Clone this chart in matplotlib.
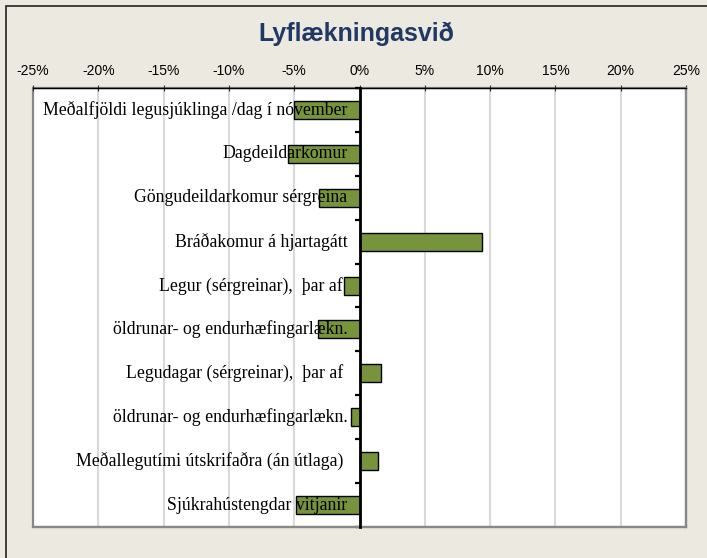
import matplotlib
matplotlib.use("Agg")
import matplotlib.pyplot as plt
from matplotlib.patches import Rectangle
from matplotlib.ticker import FixedLocator, FuncFormatter
from matplotlib.transforms import offset_copy

title = "Lyflækningasvið"
categories = [
    "Meðalfjöldi legusjúklinga /dag í nóvember",
    "Dagdeildarkomur",
    "Göngudeildarkomur sérgreina",
    "Bráðakomur á hjartagátt",
    "Legur (sérgreinar),  þar af ",
    "öldrunar- og endurhæfingarlækn.",
    "Legudagar (sérgreinar),  þar af ",
    "öldrunar- og endurhæfingarlækn.",
    "Meðallegutími útskrifaðra (án útlaga) ",
    "Sjúkrahústengdar vitjanir",
]
values = [-5.05, -5.5, -3.1, 9.35, -1.2, -3.15, 1.65, -0.65, 1.4, -4.85]
xticks = [-25, -20, -15, -10, -5, 0, 5, 10, 15, 20, 25]

W, H = 707, 558
fig = plt.figure(figsize=(W / 100, H / 100), dpi=100)
fig.patch.set_facecolor("#ECEAE0")

# outer frame (left & top visible)
fig.add_artist(Rectangle((6 / W, -0.2), 2, 1.2 - 5.5 / H, transform=fig.transFigure,
                         fill=False, edgecolor="#222222", lw=1.2))

left, right, top, bottom = 33, 686, 88, 527
ax = fig.add_axes([left / W, 1 - bottom / H, (right - left) / W, (bottom - top) / H])
ax.set_facecolor("white")

pos = list(range(len(categories)))
ax.set_xlim(-25, 25)
ax.set_ylim(len(categories) - 0.5, -0.5)

# vertical gridlines under bars
ax.vlines(xticks, -0.5, len(categories) - 0.5, colors="#D9D9D9", linewidth=1.5, zorder=0.5)

ax.barh(pos, values, height=0.41, color="#77933C", edgecolor="black", linewidth=1.0, zorder=1)

# x axis on top
ax.xaxis.set_ticks_position("top")
ax.xaxis.set_label_position("top")
ax.set_xticks(xticks)
ax.xaxis.set_major_formatter(FuncFormatter(lambda v, p: f"{v:.0f}%"))
ax.tick_params(axis="x", which="major", direction="inout", length=4.5, width=0.8,
               color="#333333", pad=5, labelsize=10, labelcolor="black")
for lab in ax.get_xticklabels():
    lab.set_fontfamily("Liberation Sans")

# y axis at zero
ax.spines["left"].set_position(("data", 0))
ax.spines["left"].set_color("black")
ax.spines["left"].set_linewidth(2)
ax.spines["left"].set_zorder(3)
ax.spines["top"].set_color("black")
ax.spines["top"].set_linewidth(1.0)
for s in ("right", "bottom"):
    ax.spines[s].set_color("#888888")
    ax.spines[s].set_linewidth(1.6)
ax.add_patch(Rectangle((0, 0), 1, 1, transform=ax.transAxes, fill=False,
                       edgecolor="#888888", lw=1.6, zorder=1, clip_on=False))

ax.set_yticks(pos)
ax.set_yticklabels([])
ax.tick_params(axis="y", which="major", length=0)
ax.yaxis.set_minor_locator(FixedLocator([p - 0.5 for p in pos] + [len(pos) - 0.5]))
ax.tick_params(axis="y", which="minor", direction="out", length=3.6, width=1.6, color="black")

# category labels drawn on top of the bars, right-aligned left of zero line
tr = offset_copy(ax.transData, fig=fig, x=-12, y=0, units="dots")
for p, lab in zip(pos, categories):
    ax.text(0, p, lab, transform=tr, ha="right", va="center", fontsize=12.8,
            fontfamily="Liberation Serif", color="black", zorder=5)

fig.text(356 / W, 1 - 33.5 / H, title, ha="center", va="center", fontsize=18,
         fontweight="bold", color="#1F3864", fontfamily="Liberation Sans")

fig.savefig("out.png", dpi=100, facecolor=fig.get_facecolor())
